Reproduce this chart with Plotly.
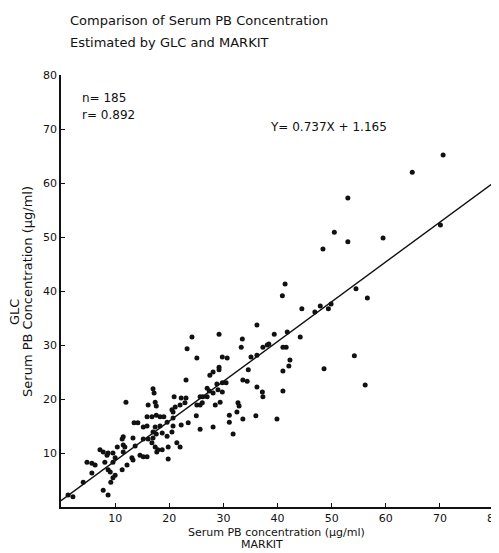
import plotly.graph_objects as go

# MARKIT (x) vs GLC (y) serum PB concentration, ug/ml
markit = [
    12.0, 16.1, 17.4, 17.6, 15.9, 16.8, 17.6, 13.5, 14.2, 15.9, 15.2, 17.4,
    11.5, 11.3, 13.3, 15.2, 16.1, 11.5, 11.8, 10.4, 13.7, 16.8, 17.4, 7.2,
    7.8, 9.6, 8.7, 8.5, 11.5, 14.6, 15.2, 15.9, 13.1, 13.3, 10.0, 9.6,
    4.8, 5.7, 6.3, 8.1, 12.2, 5.7, 8.7, 9.1, 9.6, 9.2, 11.3, 10.0,
    4.1, 7.8, 8.7, 1.3, 2.2,
    17.0, 17.6, 18.7, 22.9, 22.0, 21.1, 20.5, 25.1, 25.7, 26.1, 28.5, 29.4,
    32.7, 32.9, 18.3, 19.0, 20.7, 20.7, 19.6, 25.0, 31.1, 32.5, 33.6, 31.1,
    18.3, 20.7, 22.2, 23.5, 25.7, 28.1, 20.5, 31.8, 17.0, 19.6, 21.4, 22.0,
    19.8, 17.9, 17.7, 18.7, 19.8,
    24.2, 29.2, 33.5, 33.3, 23.3, 25.1, 29.8, 30.7, 28.1, 27.5, 29.2, 29.2,
    34.6, 23.1, 33.6, 34.4, 28.8, 29.8, 30.5, 27.0, 27.4, 29.0, 29.8, 17.0,
    17.2, 28.1, 20.9, 22.2, 23.1, 25.7, 26.2, 27.0,
    44.5, 47.9, 49.4, 46.9, 49.9, 36.2, 39.4, 41.8, 44.2, 37.3, 38.1, 38.4,
    41.0, 41.6, 35.1, 36.2, 42.3, 42.1, 41.0, 48.6, 36.2, 37.2, 37.3, 41.0,
    36.0, 39.9,
    70.6, 64.9, 53.0, 50.5, 53.0, 48.4, 59.5, 70.1, 41.4, 40.9, 54.5, 56.6,
    54.2, 56.2,
]
glc = [
    19.4, 18.9, 19.4, 18.7, 16.7, 16.7, 17.0, 15.6, 15.6, 15.0, 14.8, 14.8,
    13.0, 12.6, 12.8, 12.6, 12.6, 11.5, 11.1, 11.1, 11.3, 11.9, 11.1, 10.6,
    10.2, 10.0, 10.0, 9.6, 10.2, 9.6, 9.3, 9.3, 9.1, 8.7, 9.1, 8.3,
    8.3, 8.1, 7.8, 8.3, 7.8, 6.3, 6.9, 6.5, 5.4, 4.6, 6.9, 5.9,
    4.6, 3.1, 2.2, 2.2, 1.9,
    13.9, 13.5, 13.7, 19.3, 18.9, 18.5, 18.0, 18.9, 18.9, 19.3, 18.9, 19.4,
    19.3, 18.7, 16.7, 16.7, 17.6, 16.5, 15.7, 16.9, 17.0, 17.6, 16.3, 15.7,
    15.0, 15.0, 15.2, 15.6, 14.4, 14.8, 13.9, 13.5, 12.8, 13.1, 11.9, 11.1,
    11.1, 10.6, 10.2, 10.6, 8.9,
    31.5, 32.0, 31.1, 29.6, 29.3, 27.6, 27.8, 27.6, 25.0, 24.4, 25.9, 25.4,
    25.4, 23.5, 23.5, 23.3, 22.8, 23.0, 23.0, 22.0, 21.5, 21.7, 21.3, 21.9,
    21.1, 21.1, 20.4, 20.2, 20.2, 20.4, 20.4, 20.4,
    36.7, 37.2, 36.7, 36.1, 37.6, 33.7, 32.0, 32.4, 31.5, 29.6, 30.0, 30.2,
    29.6, 29.6, 27.8, 28.1, 27.2, 26.1, 25.2, 25.6, 22.2, 21.3, 20.4, 21.5,
    16.9, 16.3,
    65.2, 62.0, 57.2, 50.9, 49.1, 47.8, 49.8, 52.2, 41.3, 39.1, 40.4, 38.7,
    28.0, 22.6,
]

slope = 0.737
intercept = 1.165
line_x = [0, 80]
line_y = [slope * v + intercept for v in line_x]

x_ticks = [10, 20, 30, 40, 50, 60, 70, 80]
y_ticks = [10, 20, 30, 40, 50, 60, 70, 80]

FONT = "DejaVu Sans"
INK = "#111111"

fig = go.Figure()
fig.add_trace(go.Scatter(x=line_x, y=line_y, mode="lines",
                         line=dict(color=INK, width=1.4), showlegend=False,
                         hoverinfo="skip"))
fig.add_trace(go.Scatter(x=markit, y=glc, mode="markers",
                         marker=dict(color=INK, size=5), showlegend=False))

axis_common = dict(range=[0, 80], showgrid=False, zeroline=False,
                   showline=True, linecolor=INK, linewidth=1.5,
                   ticks="inside", ticklen=4, tickcolor=INK, tickwidth=1.2,
                   ticklabeloverflow="allow", automargin=False,
                   tickfont=dict(family=FONT, size=11, color=INK))
fig.update_xaxes(tickvals=x_ticks, **axis_common)
fig.update_yaxes(tickvals=y_ticks, **axis_common)

ann = [
    dict(text="Comparison of Serum PB Concentration", x=0.016, y=1.127,
         xref="paper", yref="paper", xanchor="left", yanchor="middle",
         showarrow=False, font=dict(family=FONT, size=13, color=INK)),
    dict(text="Estimated by GLC and MARKIT", x=0.016, y=1.076,
         xref="paper", yref="paper", xanchor="left", yanchor="middle",
         showarrow=False, font=dict(family=FONT, size=13, color=INK)),
    dict(text="n= 185", x=3.5, y=75.7, xref="x", yref="y", xanchor="left",
         yanchor="middle", showarrow=False,
         font=dict(family=FONT, size=12, color=INK)),
    dict(text="r= 0.892", x=3.5, y=72.6, xref="x", yref="y", xanchor="left",
         yanchor="middle", showarrow=False,
         font=dict(family=FONT, size=12, color=INK)),
    dict(text="Y= 0.737X + 1.165", x=38.3, y=70.4, xref="x", yref="y",
         xanchor="left", yanchor="middle", showarrow=False,
         font=dict(family=FONT, size=12, color=INK)),
    dict(text="Serum PB Concentration (μg/ml)", x=-0.076, y=0.498,
         xref="paper", yref="paper", textangle=-90, xanchor="center",
         yanchor="middle", showarrow=False,
         font=dict(family=FONT, size=13, color=INK)),
    dict(text="GLC", x=-0.109, y=0.451, xref="paper", yref="paper",
         textangle=-90, xanchor="center", yanchor="middle", showarrow=False,
         font=dict(family=FONT, size=13, color=INK)),
    dict(text="Serum PB concentration (μg/ml)", x=0.497, y=-0.059,
         xref="paper", yref="paper", xanchor="center", yanchor="middle",
         showarrow=False, font=dict(family=FONT, size=11, color=INK)),
    dict(text="MARKIT", x=0.464, y=-0.087, xref="paper", yref="paper",
         xanchor="center", yanchor="middle", showarrow=False,
         font=dict(family=FONT, size=11, color=INK)),
]

# page body has an 8px margin, so the figure is sized/offset to compensate
fig.update_layout(width=491, height=545, plot_bgcolor="white",
                  paper_bgcolor="white",
                  margin=dict(l=53, r=5, t=67, b=46, autoexpand=False),
                  annotations=ann, showlegend=False)

fig.write_html("out.html")
